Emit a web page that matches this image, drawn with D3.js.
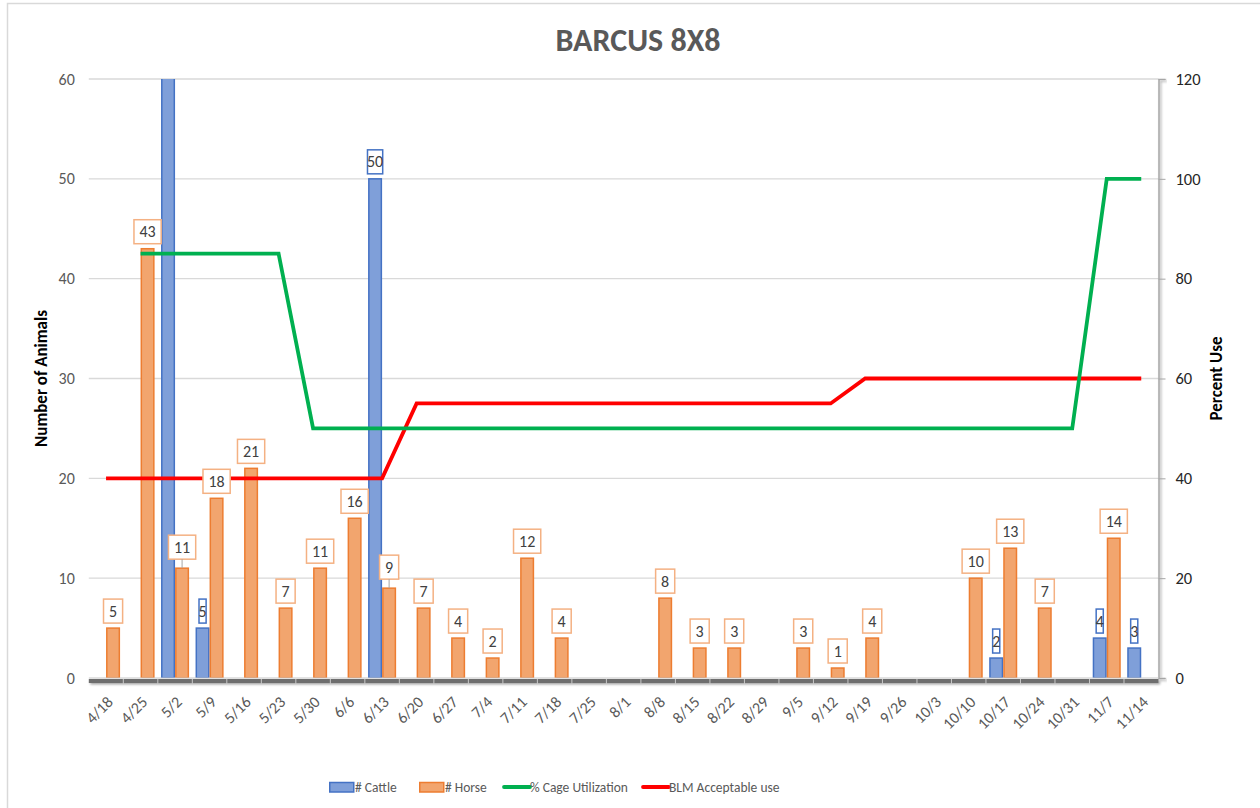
<!DOCTYPE html>
<html>
<head>
<meta charset="utf-8">
<script src="https://cdn.jsdelivr.net/npm/d3@7"></script>
<style>
  html, body { margin: 0; padding: 0; background: #fff; }
  svg { display: block; font-family: Carlito, "Liberation Sans Narrow", "Liberation Sans", sans-serif; }
</style>
</head>
<body>
<div id="chart"></div>
<script>
// Weekly counts for the Barcus 8x8 site
const weeks = ["4/18", "4/25", "5/2", "5/9", "5/16", "5/23", "5/30", "6/6", "6/13", "6/20",
  "6/27", "7/4", "7/11", "7/18", "7/25", "8/1", "8/8", "8/15", "8/22", "8/29",
  "9/5", "9/12", "9/19", "9/26", "10/3", "10/10", "10/17", "10/24", "10/31", "11/7", "11/14"];

const cattle = [null, null, 65, 5, null, null, null, null, 50, null,
  null, null, null, null, null, null, null, null, null, null,
  null, null, null, null, null, null, 2, null, null, 4, 3];

const horse = [5, 43, 11, 18, 21, 7, 11, 16, 9, 7,
  4, 2, 12, 4, null, null, 8, 3, 3, null,
  3, 1, 4, null, null, 10, 13, 7, null, 14, null];

const cageUtil = [null, 85, 85, 85, 85, 85, 50, 50, 50, 50,
  50, 50, 50, 50, 50, 50, 50, 50, 50, 50,
  50, 50, 50, 50, 50, 50, 50, 50, 50, 100, 100];

const blmUse = [40, 40, 40, 40, 40, 40, 40, 40, 40, 55,
  55, 55, 55, 55, 55, 55, 55, 55, 55, 55,
  55, 55, 60, 60, 60, 60, 60, 60, 60, 60, 60];

const leftTicks = [0, 10, 20, 30, 40, 50, 60];
const rightTicks = [0, 20, 40, 60, 80, 100, 120];

const colors = {
  cattle: "#4472c4", cattleFill: "#7f9fd9",
  horse: "#ed7d31", horseFill: "#f2a56e", horseBox: "#f4b183",
  green: "#00b050", red: "#ff0000",
  text: "#595959"
};

const width = 1260, height = 808;
const plot = { left: 88.8, right: 1158.5, top: 79, bottom: 678 };

const svg = d3.select("#chart").append("svg")
  .attr("width", width)
  .attr("height", height);

const defs = svg.append("defs");
defs.append("clipPath").attr("id", "plotClip")
  .append("rect")
  .attr("x", plot.left).attr("y", plot.top)
  .attr("width", plot.right - plot.left).attr("height", plot.bottom - plot.top);

const shadow = defs.append("filter").attr("id", "shadow")
  .attr("x", "-20%").attr("y", "-20%").attr("width", "140%").attr("height", "200%");
shadow.append("feDropShadow")
  .attr("dx", 1.5).attr("dy", 1.5).attr("stdDeviation", 1.2)
  .attr("flood-color", "#000").attr("flood-opacity", 0.35);

// chart frame
svg.append("rect")
  .attr("x", 7.5).attr("y", 3.5)
  .attr("width", 1270).attr("height", 820)
  .attr("fill", "#fff")
  .attr("stroke", "#d9d9d9")
  .attr("stroke-width", 1.5);

// title
svg.append("text")
  .attr("x", 638).attr("y", 51)
  .attr("text-anchor", "middle")
  .style("font-size", "32px")
  .style("font-weight", "bold")
  .attr("fill", colors.text)
  .text("BARCUS 8X8");

// scales
const x0 = d3.scaleBand().domain(weeks).range([plot.left, plot.right]).paddingInner(0).paddingOuter(0);
const x1 = d3.scaleBand().domain(["cattle", "horse"]).range([0, x0.bandwidth()]).paddingInner(0).paddingOuter(0.23);
const yLeft = d3.scaleLinear().domain([0, 60]).range([plot.bottom, plot.top]);
const yRight = d3.scaleLinear().domain([0, 120]).range([plot.bottom, plot.top]);
const xMid = d => x0(d) + x0.bandwidth() / 2;

// gridlines
svg.append("g")
  .selectAll("line")
  .data(leftTicks.filter(t => t > 0))
  .enter()
  .append("line")
  .attr("x1", plot.left).attr("x2", plot.right)
  .attr("y1", d => yLeft(d)).attr("y2", d => yLeft(d))
  .attr("stroke", "#d9d9d9")
  .attr("stroke-width", 1.3);

// left axis (labels only, soft line)
svg.append("line")
  .attr("x1", plot.left).attr("x2", plot.left)
  .attr("y1", plot.top).attr("y2", plot.bottom)
  .attr("stroke", "#d0d0d0").attr("stroke-width", 1.5)
  .attr("filter", "url(#shadow)");

const leftAxis = svg.append("g")
  .attr("transform", `translate(${plot.left}, 0)`)
  .call(d3.axisLeft(yLeft).tickValues(leftTicks).tickSize(0).tickPadding(14));
leftAxis.select(".domain").remove();
leftAxis.selectAll("text")
  .style("font-size", "16px")
  .style("font-family", "Carlito, 'Liberation Sans Narrow', 'Liberation Sans', sans-serif")
  .attr("fill", colors.text);

// right axis
const rightAxis = svg.append("g")
  .attr("transform", `translate(${plot.right}, 0)`)
  .call(d3.axisRight(yRight).tickValues(rightTicks).tickSize(7).tickPadding(10));
rightAxis.select(".domain")
  .attr("stroke", "#a6a6a6").attr("stroke-width", 1.5)
  .attr("filter", "url(#shadow)");
rightAxis.selectAll(".tick line").attr("stroke", "#a6a6a6");
rightAxis.selectAll("text")
  .style("font-size", "16.5px")
  .style("font-family", "Carlito, 'Liberation Sans Narrow', 'Liberation Sans', sans-serif")
  .attr("fill", "#262626");

// axis titles
svg.append("text")
  .attr("transform", `translate(47, ${(plot.top + plot.bottom) / 2}) rotate(-90)`)
  .attr("text-anchor", "middle")
  .style("font-size", "17px").style("font-weight", "bold")
  .attr("fill", "#000")
  .text("Number of Animals");

svg.append("text")
  .attr("transform", `translate(1222, ${(plot.top + plot.bottom) / 2}) rotate(-90)`)
  .attr("text-anchor", "middle")
  .style("font-size", "17px").style("font-weight", "bold")
  .attr("fill", "#000")
  .text("Percent Use");

// bars
const bars = svg.append("g").attr("clip-path", "url(#plotClip)");

bars.selectAll(".cattle")
  .data(weeks.map((w, i) => ({ key: w, value: cattle[i] })).filter(d => d.value != null))
  .enter()
  .append("rect")
  .attr("class", "cattle")
  .attr("x", d => x0(d.key) + x1("cattle") + 0.75)
  .attr("y", d => yLeft(d.value))
  .attr("width", x1.bandwidth() - 1.5)
  .attr("height", d => plot.bottom - yLeft(d.value))
  .attr("fill", colors.cattleFill)
  .attr("stroke", colors.cattle)
  .attr("stroke-width", 1.5);

bars.selectAll(".horse")
  .data(weeks.map((w, i) => ({ key: w, value: horse[i] })).filter(d => d.value != null))
  .enter()
  .append("rect")
  .attr("class", "horse")
  .attr("x", d => x0(d.key) + x1("horse") + 0.75)
  .attr("y", d => yLeft(d.value))
  .attr("width", x1.bandwidth() - 1.5)
  .attr("height", d => plot.bottom - yLeft(d.value))
  .attr("fill", colors.horseFill)
  .attr("stroke", colors.horse)
  .attr("stroke-width", 1.5);

// x axis: dark shaded band with separators
const xAxisG = svg.append("g");
xAxisG.append("rect")
  .attr("x", plot.left).attr("y", plot.bottom + 1)
  .attr("width", plot.right - plot.left).attr("height", 4)
  .attr("fill", "#6e6e6e")
  .attr("filter", "url(#shadow)");
xAxisG.append("line")
  .attr("x1", plot.left).attr("x2", plot.right)
  .attr("y1", plot.bottom).attr("y2", plot.bottom)
  .attr("stroke", "#c8c8c8").attr("stroke-width", 1.2);
xAxisG.selectAll(".sep")
  .data(weeks.slice(1))
  .enter()
  .append("line")
  .attr("x1", d => x0(d)).attr("x2", d => x0(d))
  .attr("y1", plot.bottom + 1).attr("y2", plot.bottom + 6)
  .attr("stroke", "#c8c8c8").attr("stroke-width", 1);

xAxisG.selectAll(".xlabel")
  .data(weeks)
  .enter()
  .append("text")
  .attr("class", "xlabel")
  .attr("text-anchor", "end")
  .attr("transform", d => `translate(${xMid(d) + 4}, ${plot.bottom + 21}) rotate(-45)`)
  .attr("dy", "0.35em")
  .style("font-size", "16px")
  .attr("fill", colors.text)
  .text(d => d);

// lines
const lineGen = scaleY => d3.line()
  .defined(d => d.value != null)
  .x(d => xMid(d.key))
  .y(d => scaleY(d.value));

svg.append("path")
  .datum(weeks.map((w, i) => ({ key: w, value: blmUse[i] })))
  .attr("fill", "none")
  .attr("stroke", colors.red)
  .attr("stroke-width", 3.8)
  .attr("d", lineGen(yRight));

svg.append("path")
  .datum(weeks.map((w, i) => ({ key: w, value: cageUtil[i] })))
  .attr("fill", "none")
  .attr("stroke", colors.green)
  .attr("stroke-width", 3.8)
  .attr("d", lineGen(yRight));

// data labels
const labels = svg.append("g");

const addLabel = (key, value, series, lift) => {
  const cx = x0(key) + x1(series) + x1.bandwidth() / 2;
  const top = yLeft(value);
  const boxH = 24;
  const boxBottom = top - 5 - lift;
  const g = labels.append("g");
  const t = g.append("text")
    .attr("x", cx)
    .attr("y", boxBottom - boxH / 2)
    .attr("dy", "0.35em")
    .attr("text-anchor", "middle")
    .style("font-size", "16px")
    .attr("fill", "#404040")
    .text(value);
  const tw = t.node().getComputedTextLength();
  const boxW = series === "horse" ? tw + 11 : Math.max(tw - 1, 7);
  g.insert("rect", "text")
    .attr("x", cx - boxW / 2)
    .attr("y", boxBottom - boxH)
    .attr("width", boxW)
    .attr("height", boxH)
    .attr("fill", "#fff")
    .attr("stroke", series === "horse" ? colors.horseBox : colors.cattle)
    .attr("stroke-width", 1.5);
  if (lift > 0) {
    g.append("line")
      .attr("x1", cx).attr("x2", cx)
      .attr("y1", boxBottom).attr("y2", top)
      .attr("stroke", "#a6a6a6").attr("stroke-width", 1);
  }
};

weeks.forEach((w, i) => {
  if (cattle[i] != null && cattle[i] <= 60) addLabel(w, cattle[i], "cattle", 0);
  if (horse[i] != null) {
    const crowded = cattle[i] != null && cattle[i] > horse[i];
    addLabel(w, horse[i], "horse", crowded ? 4 : 0);
  }
});

// legend
const legend = svg.append("g").attr("transform", "translate(0, 787)");
const legendItems = [
  { name: "# Cattle", type: "box", fill: colors.cattleFill, stroke: colors.cattle, x: 329 },
  { name: "# Horse", type: "box", fill: colors.horseFill, stroke: colors.horse, x: 419 },
  { name: "% Cage Utilization", type: "line", stroke: colors.green, x: 504 },
  { name: "BLM Acceptable use", type: "line", stroke: colors.red, x: 643 }
];

legendItems.forEach(item => {
  const g = legend.append("g").attr("transform", `translate(${item.x}, 0)`);
  if (item.type === "box") {
    g.append("rect")
      .attr("x", 0.75).attr("y", -4.5)
      .attr("width", 24).attr("height", 9.5)
      .attr("fill", item.fill)
      .attr("stroke", item.stroke)
      .attr("stroke-width", 1.5);
  } else {
    g.append("line")
      .attr("x1", 0).attr("x2", 26)
      .attr("y1", 0).attr("y2", 0)
      .attr("stroke", item.stroke)
      .attr("stroke-width", 3.8)
      .attr("stroke-linecap", "round");
  }
  g.append("text")
    .attr("x", 26)
    .attr("dy", "0.35em")
    .style("font-size", "13.5px")
    .attr("fill", colors.text)
    .text(item.name);
});
</script>
</body>
</html>
